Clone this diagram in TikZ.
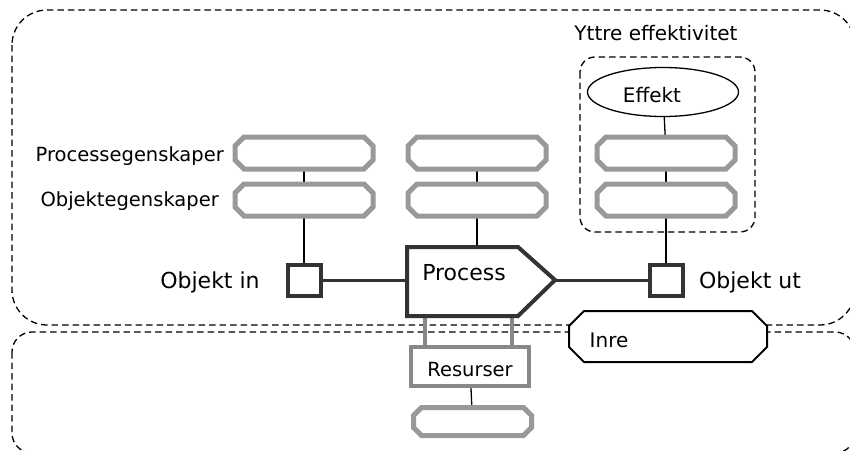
\documentclass[tikz,border=0pt]{standalone}
\usepackage{fontspec}
\setmainfont{DejaVu Sans}
\usetikzlibrary{shapes.geometric}
\definecolor{propgray}{HTML}{999999}
\definecolor{resgray}{HTML}{888888}
\definecolor{dark}{HTML}{333333}
\newcommand{\fs}[1]{\fontsize{#1}{#1}\selectfont}
% draw an octagon on the border of a rectangle node: #1 node, #2 chamfer, #3 style
\newcommand{\octoutline}[3]{%
  \draw[#3] ([xshift=#2]#1.north west) -- ([xshift=-#2]#1.north east)
    -- ([yshift=-#2]#1.north east) -- ([yshift=#2]#1.south east)
    -- ([xshift=-#2]#1.south east) -- ([xshift=#2]#1.south west)
    -- ([yshift=#2]#1.south west) -- ([yshift=-#2]#1.north west) -- cycle;}
\begin{document}
\begin{tikzpicture}[x=1pt,y=-1pt,
  region/.style={draw=black,dashed,dash pattern=on 6.5pt off 4pt,line width=1.3pt},
  propbox/.style={rectangle,draw=none,minimum width=138pt,minimum height=32pt,
    inner sep=0pt,outer sep=0pt},
  propline/.style={draw=propgray,line width=5pt,fill=white,line join=miter},
  objbox/.style={draw=dark,line width=4pt,fill=white,minimum width=33pt,minimum height=31pt,inner sep=0pt,outer sep=0pt},
  resbox/.style={draw=resgray,line width=4pt,fill=white,minimum width=118pt,minimum height=39pt,inner sep=0pt,outer sep=0pt},
  thin/.style={draw=black,line width=1.3pt},
  thick/.style={draw=dark,line width=3pt},
  lbl/.style={inner sep=0pt,font=\fs{19.5}},
]
\useasboundingbox (0,0) rectangle (850,450);
\clip (0,0) rectangle (850,450);
% regions
\draw[region,rounded corners=35pt] (12,10) rectangle (855,325);
\draw[region,rounded corners=20pt] (12,332) rectangle (855,453);
\draw[region,rounded corners=15pt] (580,57) rectangle (755,232);
\node[lbl,font=\fs{20}] (yttre) at (656,33) {Yttre effektivitet};

% property boxes (positions)
\node[propbox] (p1) at (304,153) {};
\node[propbox] (p2) at (304,200) {};
\node[propbox] (m1) at (477,153) {};
\node[propbox] (m2) at (477,200) {};
\node[propbox] (r1) at (666,153) {};
\node[propbox] (r2) at (666,200) {};
\node[ellipse,thin,fill=white,minimum width=151pt,minimum height=49pt,inner sep=0pt] (eff) at (663,92) {};
\node[lbl,font=\fs{20}] (efftext) at (652,95) {Effekt};

\node[lbl,anchor=east] (ptext) at (224,156) {Processegenskaper};
\node[lbl,anchor=east] (otext) at (219,201) {Objektegenskaper};

% objects
\node[objbox] (oin) at (304,280) {};
\node[objbox] (oout) at (666,280) {};
\node[lbl,font=\fs{22}] (intext) at (210,282) {Objekt in};
\node[lbl,font=\fs{22}] (uttext) at (750,282) {Objekt ut};

% process
\coordinate (procL) at (407,280);
\coordinate (procR) at (555,280);
\coordinate (procT) at (477,247);
\coordinate (procB1) at (425,316);
\coordinate (procB2) at (512,316);
\node[resbox] (res) at (470,366.5) {};
\node[propbox,minimum width=118pt,minimum height=28pt] (rb) at (472.5,421.5) {};

% connectors
\draw[thin] (p1) -- (p2);
\draw[thin] (p2) -- (oin);
\draw[thin] (m1) -- (m2);
\draw[thin] (m2) -- (m2 |- procT);
\draw[thin] (eff) -- (r1);
\draw[thin] (r1) -- (r2);
\draw[thin] (r2) -- (oout);
\draw[thick] (oin) -- (procL);
\draw[thick] (procR) -- (oout);
\draw[thin] (res) -- (rb);
\draw[draw=resgray,line width=4pt] (procB1) -- (procB1 |- res.north);
\draw[draw=resgray,line width=4pt] (procB2) -- (procB2 |- res.north);

% octagon outlines
\octoutline{p1}{9pt}{propline}
\octoutline{p2}{9pt}{propline}
\octoutline{m1}{9pt}{propline}
\octoutline{m2}{9pt}{propline}
\octoutline{r1}{9pt}{propline}
\octoutline{r2}{9pt}{propline}
\octoutline{rb}{8pt}{propline}

\node[objbox] at (oin) {};
\node[objbox] at (oout) {};
\node[resbox] at (res) {};
\node[lbl,font=\fs{19.5}] (restext) at (470,370) {Resurser};
\draw[draw=dark,line width=4pt,fill=white,line join=miter]
  (407,247) -- (518,247) -- (procR) -- (518,316) -- (407,316) -- cycle;
\node[lbl,font=\fs{22}] (proctext) at (464,273) {Process};

% inre
\node[propbox,minimum width=198pt,minimum height=51pt] (inre) at (668,336.5) {};
\octoutline{inre}{15pt}{draw=black,line width=2pt,fill=white,line join=miter}
\node[lbl,font=\fs{20}] (inretext) at (609,340) {Inre};
\end{tikzpicture}
\end{document}
